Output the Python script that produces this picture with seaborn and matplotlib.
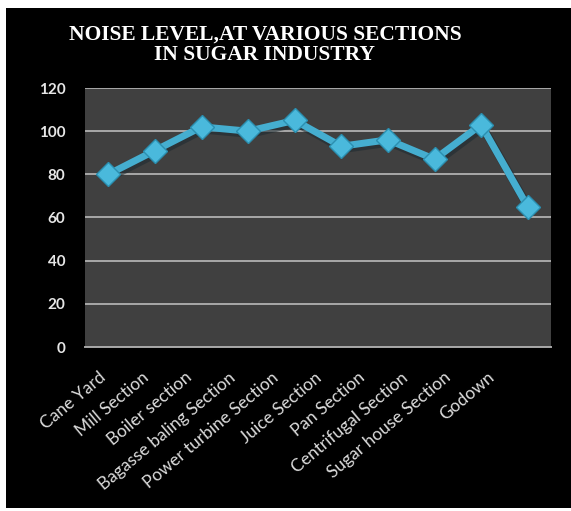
import matplotlib
matplotlib.use("Agg")
import matplotlib.pyplot as plt
import matplotlib.transforms as mtransforms
import seaborn as sns
import pandas as pd
from matplotlib.patches import Rectangle

sections = ["Cane Yard", "Mill Section", "Boiler section", "Bagasse baling Section",
            "Power turbine Section", "Juice Section", "Pan Section",
            "Centrifugal Section", "Sugar house Section", "Godown"]
noise_db = [80, 91, 102, 100, 105, 93, 96, 87, 103, 65]
y_ticks = [0, 20, 40, 60, 80, 100, 120]

df = pd.DataFrame({"pos": range(len(sections)), "noise": noise_db})

sns.set_theme(style="dark")
fig = plt.figure(figsize=(5.71, 5.11), dpi=100)
fig.patch.set_facecolor("white")
fig.patches.append(Rectangle((6 / 571, 3 / 511), 1 - 6 / 571, 500 / 511,
                             transform=fig.transFigure, facecolor="black",
                             edgecolor="none", zorder=-10))

ax = fig.add_axes([85 / 571, 164 / 511, 466 / 571, 259 / 511])
ax.set_facecolor("#404040")

# soft shadow under the series, then the series itself
ax.plot(df["pos"] + 0.04, df["noise"] - 1.2, color="#1c2a30", lw=6,
        alpha=0.55, zorder=2, solid_joinstyle="round")
sns.lineplot(data=df, x="pos", y="noise", ax=ax, color="#45aed0", lw=5,
             marker="D", markersize=12.5, markerfacecolor="#4ab9dc",
             markeredgecolor="#2b8fb0", markeredgewidth=1.0, zorder=3)

ax.set_xlim(-0.5, len(sections) - 0.5)
ax.set_ylim(0, 120)
ax.tick_params(axis="x", pad=16, length=0)
ax.tick_params(axis="y", pad=14, length=0)
ax.set_yticks(y_ticks)
ax.set_yticklabels([str(v) for v in y_ticks], fontsize=11, fontweight="bold",
                   color="#e6e6e6", family="Lato")
ax.set_xticks(range(len(sections)))
ax.set_xticklabels(sections, rotation=40, ha="right", va="top",
                   rotation_mode="anchor", fontsize=12.5, color="#dcdcdc",
                   family="Lato")
# category labels sit slightly left of their ticks, drifting further left across the axis
for i, lbl in enumerate(ax.get_xticklabels()):
    dx = -(10 + 3.4 * i) / 100
    lbl.set_transform(lbl.get_transform()
                      + mtransforms.ScaledTranslation(dx, 0, fig.dpi_scale_trans))

ax.yaxis.grid(True, color="#a8a8a8", lw=1.4)
ax.xaxis.grid(False)
for side in ["left", "right", "top"]:
    ax.spines[side].set_visible(False)
ax.spines["bottom"].set_color("#a8a8a8")
ax.spines["bottom"].set_linewidth(1.4)
ax.set_xlabel("")
ax.set_ylabel("")

fig.text(265 / 571, 1 - 45 / 511, "NOISE LEVEL,AT VARIOUS SECTIONS\nIN SUGAR INDUSTRY",
         ha="center", va="center", color="white", fontsize=15.5,
         fontweight="bold", family="Liberation Serif", linespacing=1.05)

fig.savefig("out.png", dpi=100, facecolor=fig.get_facecolor())
